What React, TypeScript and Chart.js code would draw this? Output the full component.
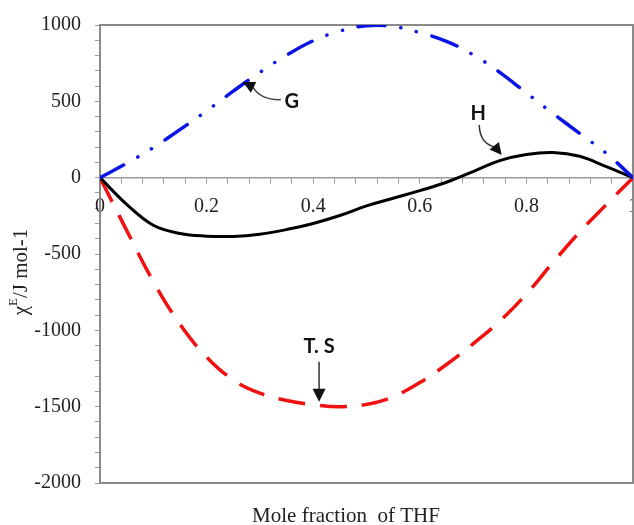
import React, { useEffect, useRef } from 'react';
import { Chart, registerables } from 'chart.js';

Chart.register(...registerables);

// Mole fraction of THF
const xFractions = [0, 0.05, 0.1, 0.15, 0.2, 0.25, 0.3, 0.35, 0.4, 0.45, 0.5, 0.55, 0.6, 0.65, 0.7, 0.75, 0.8, 0.85, 0.9, 0.95, 1];
// G^E (J/mol)
const gValues = [0, 94, 197, 315, 437, 567, 690, 802, 897, 960, 995, 990, 950, 893, 805, 690, 555, 420, 290, 159, 0];
// H^E (J/mol)
const hValues = [0, -175, -312, -366, -383, -385, -370, -340, -300, -248, -185, -135, -85, -30, 40, 112, 152, 165, 140, 72, 0];
// T.S^E (J/mol)
const tsValues = [0, -345, -680, -960, -1175, -1325, -1412, -1460, -1487, -1500, -1485, -1435, -1342, -1224, -1088, -940, -762, -555, -356, -176, 0];

const yMin = -2000;
const yMax = 1000;
const yMajorStep = 500;
const yMinorStep = 100;
const xLabelStep = 0.2;
const xMinorStep = 0.04;

const xTitle = 'Mole fraction  of THF';

const serif = '"Liberation Serif", "Times New Roman", serif';
const labelSans = 'Lato, "Liberation Sans", sans-serif';

function arrowHead(ctx: CanvasRenderingContext2D, tx: number, ty: number, fx: number, fy: number, len: number, halfW: number) {
  const a = Math.atan2(ty - fy, tx - fx);
  const bx = tx - len * Math.cos(a);
  const by = ty - len * Math.sin(a);
  ctx.beginPath();
  ctx.moveTo(tx, ty);
  ctx.lineTo(bx + halfW * Math.sin(a), by - halfW * Math.cos(a));
  ctx.lineTo(bx - halfW * Math.sin(a), by + halfW * Math.cos(a));
  ctx.closePath();
  ctx.fill();
}

const framePlugin = {
  id: 'frame',
  beforeDatasetsDraw(chart: any) {
    const { ctx, chartArea } = chart;
    const { left, top, right, bottom } = chartArea;
    ctx.save();
    ctx.strokeStyle = '#8a8a8a';
    ctx.lineWidth = 2;
    ctx.strokeRect(left, top, right - left, bottom - top);
    ctx.restore();
  },
  afterDraw(chart: any) {
    const { ctx } = chart;
    const x = chart.scales.x;
    const y = chart.scales.y;
    ctx.save();

    // X axis title
    ctx.fillStyle = '#222';
    ctx.font = `21px ${serif}`;
    ctx.textAlign = 'center';
    ctx.textBaseline = 'alphabetic';
    ctx.fillText(xTitle, 346, 522);

    // Y axis title with superscript
    ctx.save();
    ctx.translate(21, 272);
    ctx.rotate(-Math.PI / 2);
    ctx.fillStyle = '#222';
    ctx.textBaseline = 'middle';
    ctx.textAlign = 'left';
    const mainFont = `21px ${serif}`;
    const supFont = `13px ${serif}`;
    ctx.font = mainFont;
    const wChi = ctx.measureText('χ').width;
    const wRest = ctx.measureText('/J mol-1').width;
    ctx.font = supFont;
    const wE = ctx.measureText('E').width;
    const total = wChi + wE + wRest;
    let cx = -total / 2;
    ctx.font = mainFont;
    ctx.fillText('χ', cx, 0);
    cx += wChi;
    ctx.font = supFont;
    ctx.fillText('E', cx, -7);
    cx += wE;
    ctx.font = mainFont;
    ctx.fillText('/J mol-1', cx, 0);
    ctx.restore();

    // Annotations
    ctx.font = `bold 20px ${labelSans}`;
    ctx.fillStyle = '#111';
    ctx.textAlign = 'center';
    ctx.textBaseline = 'middle';

    // G
    const gTx = x.getPixelForValue(0.268);
    const gTy = y.getPixelForValue(626);
    ctx.fillText('G', x.getPixelForValue(0.36), y.getPixelForValue(497));
    ctx.strokeStyle = '#444';
    ctx.lineWidth = 1.5;
    ctx.beginPath();
    ctx.moveTo(gTx + 38, gTy + 17.5);
    ctx.bezierCurveTo(gTx + 24, gTy + 18, gTx + 15, gTy + 13, gTx + 10, gTy + 5);
    ctx.stroke();
    ctx.fillStyle = '#111';
    arrowHead(ctx, gTx, gTy, gTx + 11, gTy + 5.5, 12, 6);

    // H
    const hTx = x.getPixelForValue(0.7537);
    const hTy = y.getPixelForValue(148);
    ctx.fillText('H', x.getPixelForValue(0.7098), y.getPixelForValue(421));
    ctx.strokeStyle = '#333';
    ctx.beginPath();
    ctx.moveTo(hTx - 22.5, hTy - 30);
    ctx.bezierCurveTo(hTx - 22, hTy - 17, hTx - 17, hTy - 11, hTx - 7, hTy - 8);
    ctx.stroke();
    arrowHead(ctx, hTx, hTy, hTx - 8, hTy - 10, 12, 6);

    // T. S
    const tTx = x.getPixelForValue(0.411);
    const tTy = y.getPixelForValue(-1468);
    ctx.fillText('T. S', tTx, tTy - 55);
    ctx.strokeStyle = '#111';
    ctx.lineWidth = 1.3;
    ctx.beginPath();
    ctx.moveTo(tTx, tTy - 40);
    ctx.lineTo(tTx, tTy - 10);
    ctx.stroke();
    arrowHead(ctx, tTx, tTy, tTx, tTy - 12, 13, 6.5);

    ctx.restore();
  },
};

const toPoints = (ys: number[]) => xFractions.map((xv, i) => ({ x: xv, y: ys[i] }));

export default function App() {
  const canvasRef = useRef<HTMLCanvasElement | null>(null);

  useEffect(() => {
    if (!canvasRef.current) return;
    const chart = new Chart(canvasRef.current, {
      type: 'line',
      data: {
        datasets: [
          {
            label: 'G',
            data: toPoints(gValues),
            borderColor: '#0a14e6',
            borderWidth: 3.5,
            borderDash: [27, 16, 0.1, 16, 0.1, 16],
            borderCapStyle: 'round',
            pointRadius: 0,
            tension: 0.4,
            fill: false,
          },
          {
            label: 'H',
            data: toPoints(hValues),
            borderColor: '#000000',
            borderWidth: 3,
            pointRadius: 0,
            tension: 0.4,
            fill: false,
          },
          {
            label: 'T.S',
            data: toPoints(tsValues),
            borderColor: '#f01010',
            borderWidth: 3.5,
            borderDash: [27, 15],
            pointRadius: 0,
            tension: 0.4,
            fill: false,
          },
        ],
      },
      options: {
        animation: false,
        responsive: false,
        maintainAspectRatio: false,
        layout: { autoPadding: false, padding: { top: 25, right: 1, left: 0, bottom: 0 } },
        plugins: {
          legend: { display: false },
          tooltip: { enabled: false },
        },
        scales: {
          x: {
            type: 'linear',
            min: 0,
            max: 1,
            position: { y: 0 } as any,
            ticks: {
              stepSize: xMinorStep,
              autoSkip: false,
              maxRotation: 0,
              minRotation: 0,
              padding: 12,
              color: '#222',
              font: { family: serif, size: 20 },
              callback: (v: any) => {
                const n = Number(v);
                const r = n / xLabelStep;
                if (Math.abs(r - Math.round(r)) > 1e-6) return '';
                if (Math.abs(n) < 1e-9) return '0';
                if (Math.abs(n - 1) < 1e-9) return '1';
                return n.toFixed(1);
              },
            },
            grid: { drawOnChartArea: false, drawTicks: true, tickLength: 5, color: '#9a9a9a', lineWidth: 1 },
            border: { display: true, color: '#9a9a9a', width: 1.5 },
            afterFit: (s: any) => {
              s.paddingLeft = 0;
              s.paddingRight = 0;
            },
          } as any,
          x2: {
            type: 'linear',
            axis: 'x',
            min: 0,
            max: 1,
            position: 'bottom',
            ticks: { display: false },
            grid: { display: false },
            border: { display: false },
            afterFit: (s: any) => {
              s.height = 42;
              s.paddingLeft = 0;
              s.paddingRight = 0;
            },
          } as any,
          y: {
            type: 'linear',
            min: yMin,
            max: yMax,
            position: 'left',
            ticks: {
              stepSize: yMinorStep,
              autoSkip: false,
              padding: 14,
              color: '#222',
              font: { family: serif, size: 20 },
              callback: (v: any) => (Number(v) % yMajorStep === 0 ? String(v) : ''),
            },
            grid: { drawOnChartArea: false, drawTicks: true, tickLength: 5, color: '#9a9a9a', lineWidth: 1 },
            border: { display: false },
            afterFit: (s: any) => {
              s.width = 100;
              s.paddingTop = 0;
              s.paddingBottom = 0;
            },
          } as any,
        },
      },
      plugins: [framePlugin],
    });
    return () => chart.destroy();
  }, []);

  return (
    <div style={{ position: 'absolute', left: 0, top: 0, width: 634, height: 525, background: '#fff' }}>
      <canvas ref={canvasRef} width={634} height={525} style={{ display: 'block', width: 634, height: 525 }} />
    </div>
  );
}
